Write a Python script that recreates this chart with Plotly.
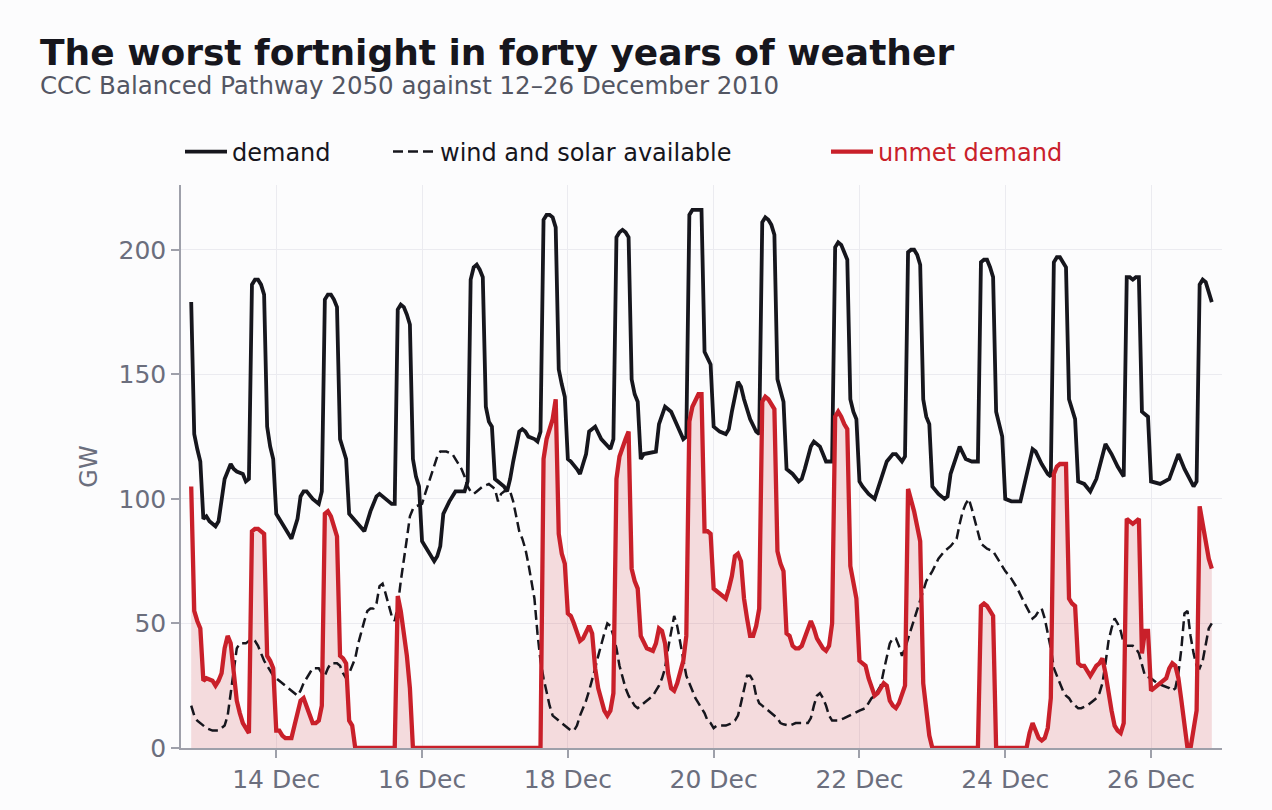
import pandas as pd
import plotly.graph_objects as go

START = pd.Timestamp("2010-12-12 00:00")

# hours after 12 Dec 00:00 and GW values
demand_hours = [20,21,22,23,24,25,26,28,29,30,31,32,33,34,35,37,38,39,40,41,42,43,44,45,46,47,48,50,52,53,54,55,56,57,58,60,62,63,64,65,66,67,68,69,70,71,72,74,76,77,79,80,81,82,84,86,87,88,89,90,91,92,93,94,95,96,97,99,100,101,102,103,104,105,107,110,111,112,113,114,115,116,117,118,119,120,121,123,124,125,126,127,128,129,130,131,133,134,135,136,137,138,139,140,141,142,143,144,145,147,148,149,150,151,153,155,157,158,159,160,161,162,163,164,165,166,167,168,169,173,174,176,178,180,182,183,184,185,186,187,188,189,190,191,192,194,196,197,198,200,201,202,204,206,207,208,209,210,211,212,213,214,215,216,218,220,221,222,224,225,227,228,229,231,232,233,234,235,236,237,238,239,240,241,243,245,247,248,249,251,252,254,255,256,257,258,259,260,261,262,263,264,266,268,269,270,272,273,275,277,279,280,281,282,283,284,285,286,287,288,290,293,295,297,298,300,302,303,304,305,306,307,308,309,310,311,312,314,316,318,321,323,325,327,328,329,330,331,332,333,334,335,336,339,342,345,347,350,351,352,353,354,355,356]
demand_gw = [179,126,120,115,92,93,91,89,91,101,108,111,114,112,111,110,107,108,186,188,188,186,182,129,121,116,94,90,86,84,88,92,101,103,103,100,98,103,180,182,182,180,177,124,120,116,94,91,88,87,95,98,101,102,100,98,98,176,178,177,174,170,116,109,105,83,81,77,75,77,81,94,97,99,103,103,107,188,193,194,192,189,137,131,129,108,107,105,103,108,115,122,127,128,127,125,124,123,127,212,214,214,213,209,152,146,141,116,115,112,110,114,118,127,129,124,121,120,124,205,207,208,207,205,148,142,139,116,118,119,130,137,135,129,124,125,214,216,216,216,216,159,156,154,129,127,126,128,135,147,145,140,132,127,126,211,213,212,210,206,148,143,139,112,110,107,108,112,121,123,121,118,115,115,201,203,202,199,196,140,135,132,107,105,102,100,107,111,115,118,118,115,117,199,200,200,198,194,140,133,130,105,102,100,101,110,118,121,116,115,115,195,196,196,193,189,135,130,125,100,99,99,110,120,119,114,110,109,195,197,197,195,193,140,136,132,107,106,103,108,122,118,113,109,189,189,188,189,189,135,134,133,107,106,108,118,112,105,107,186,188,187,183,179]

wind_solar_hours = [20,21,22,23,24,25,27,29,30,31,32,33,34,35,36,38,40,41,42,43,44,45,46,47,48,50,52,53,55,56,57,59,60,62,63,64,65,66,68,69,70,71,72,73,74,75,76,77,78,79,80,81,82,83,84,85,86,87,88,89,90,91,92,93,94,96,97,98,99,100,101,102,104,106,107,108,109,110,111,112,113,114,115,116,118,119,120,121,122,123,124,125,126,127,128,129,130,131,132,133,134,135,136,137,138,139,140,141,142,143,144,145,146,147,148,149,150,151,152,153,154,155,156,157,158,159,160,161,162,163,164,165,166,167,168,170,172,173,174,175,176,177,178,179,180,181,182,183,184,185,186,187,188,189,190,191,192,193,196,198,199,200,201,202,203,204,205,206,207,208,209,210,211,212,213,214,215,217,219,223,224,225,226,227,228,229,230,231,233,235,238,240,242,243,244,245,247,248,249,250,251,252,253,254,255,256,257,258,259,260,261,262,263,264,266,268,270,272,273,274,275,276,277,278,279,280,282,284,286,288,290,292,294,296,297,298,299,300,301,302,303,304,305,306,307,308,309,310,311,312,313,315,317,318,319,320,321,322,323,324,325,326,327,328,330,331,332,333,334,336,338,340,342,343,344,345,346,347,348,349,350,351,352,353,354,355,356]
wind_solar_gw = [17,13,11,10,9,8,7,7,8,9,13,22,32,40,42,42,44,43,41,38,35,33,31,29,28,26,24,23,21,23,26,30,32,32,30,29,32,34,34,33,30,28,30,33,36,42,47,51,55,56,56,58,65,66,62,57,53,51,57,67,75,84,93,96,97,98,102,106,110,114,117,119,119,118,116,114,112,109,105,103,102,103,104,105,106,105,104,99,102,103,104,103,99,93,87,84,80,74,67,60,46,35,28,22,17,13,12,11,10,9,8,7,7,9,13,16,19,23,27,32,37,42,46,50,49,45,40,33,28,24,21,19,17,16,17,19,21,23,25,28,32,40,47,53,49,42,35,29,26,23,20,18,16,14,11,10,8,9,9,10,11,13,18,24,29,29,27,21,18,17,16,15,14,13,12,10,9.5,9,10,10,12,17,21,22,20,17,13,11,11,12,14,15,16,18,20,21,25,31,37,42,44,44,41,37,40,44,48,52,56,60,64,67,69,71,76,79,81,84,90,95,98,100,96,91,86,82,80,79,75,71,68,64,59,54,52,53,55,56,52,46,40,32,29,26,23,21,20,18,17,16,16,17,19,20,22,26,34,43,48,52,50,47,42,41,41,40,38,33,29,28,26,25,24,23,24,30,40,54,55,45,38,33,32,35,42,48,50]

unmet_hours = [20,21,22,23,24,25,27,28,29,30,31,32,33,34,35,36,37,38,39,40,41,42,43,44,45,46,47,48,49,50,51,53,54,55,56,57,58,59,60,61,62,63,64,65,66,67,68,69,70,71,72,73,74,87,88,89,90,91,92,93,135,136,137,138,139,140,141,142,143,144,145,146,147,148,149,150,151,152,153,154,155,156,157,158,159,160,161,162,163,164,165,166,167,168,169,170,172,173,174,175,176,177,178,179,180,181,182,183,184,185,186,187,188,189,190,191,192,193,194,195,196,197,198,199,200,201,202,203,204,205,206,207,208,209,210,211,212,213,214,215,216,217,218,219,220,221,222,223,224,225,226,227,228,229,230,231,232,233,234,235,236,237,238,239,240,241,242,243,244,245,246,247,248,249,250,251,252,253,254,255,256,257,258,259,260,261,262,263,264,279,280,281,282,283,284,285,295,296,297,298,299,300,301,302,303,304,305,306,307,308,309,310,311,312,313,314,315,316,317,318,319,320,321,322,323,324,325,326,327,328,329,330,331,332,333,334,335,336,337,338,339,340,341,342,343,344,345,346,347,348,349,350,351,352,353,354,355,356]
unmet_gw = [105,55,51,48,27,28,27,25,27,30,40,45,42,30,19,14,10,8,6,87,88,88,87,86,37,35,32,7,7,5,4,4,9,15,19,20,17,13,10,10,11,17,94,95,93,89,85,37,36,34,11,9,0,0,61,55,47,37,24,0,0,116,124,128,132,140,86,78,74,54,53,50,46,43,44,47,49,46,32,24,19,15,13,15,22,108,117,121,124,127,72,67,64,45,42,40,39,42,48,47,42,30,24,23,26,30,35,45,131,137,140,142,142,87,87,86,64,63,62,61,60,64,69,77,78,75,60,52,45,45,49,56,139,141,140,138,136,79,74,71,46,45,41,40,40,41,44,48,51,48,44,42,40,39,41,50,133,135,133,130,128,73,66,60,35,34,33,28,24,21,22,24,26,25,19,17,16,18,21,25,104,100,95,89,83,26,15,5,0,0,57,58,57,55,53,0,0,6,10,7,4,3,4,8,20,110,113,114,114,114,60,58,57,34,33,33,31,29,31,33,34,36,30,22,15,9,7,6,10,92,91,90,91,92,38,47,47,23,24,25,26,27,28,32,34,33,28,19,10,0,0,7,15,97,90,84,76,72]

tick_dates = ["2010-12-14", "2010-12-16", "2010-12-18", "2010-12-20",
              "2010-12-22", "2010-12-24", "2010-12-26"]
tick_labels = ["14 Dec", "16 Dec", "18 Dec", "20 Dec", "22 Dec", "24 Dec", "26 Dec"]
y_ticks = [0, 50, 100, 150, 200]

INK = "#16161d"
RED = "#c9202a"
GREY = "#6b6e7d"
AXIS = "#9ea0aa"
GRID = "#ebebf0"
BG = "#fcfcfd"
FONT = "DejaVu Sans"


def to_time(hours):
    return [START + pd.Timedelta(hours=h) for h in hours]


fig = go.Figure()

fig.add_trace(go.Scatter(
    x=to_time(unmet_hours), y=unmet_gw, mode="lines",
    line=dict(width=0, color=RED), fill="tozeroy",
    fillcolor="rgba(201,32,42,0.15)", showlegend=False, hoverinfo="skip"))

fig.add_trace(go.Scatter(
    x=to_time(demand_hours), y=demand_gw, mode="lines", name="demand",
    line=dict(color=INK, width=3.8), legend="legend"))

fig.add_trace(go.Scatter(
    x=to_time(wind_solar_hours), y=wind_solar_gw, mode="lines",
    name="wind and solar available",
    line=dict(color=INK, width=2.5, dash="10px,5px"), legend="legend2"))

fig.add_trace(go.Scatter(
    x=to_time(unmet_hours), y=unmet_gw, mode="lines", name="unmet demand",
    line=dict(color=RED, width=4.3), legend="legend3"))

L, R, T, B = 181, 50, 185, 62
PW, PH = 1272 - L - R, 810 - T - B


def px_x(px):
    return (px - L) / PW


def px_y(py):
    return (810 - B - py) / PH


legend_common = dict(orientation="h", yanchor="middle", y=px_y(152),
                     xanchor="left", bgcolor="rgba(0,0,0,0)",
                     itemwidth=42, borderwidth=0)

fig.update_layout(
    width=1272, height=810,
    margin=dict(l=L, r=R, t=T, b=B),
    paper_bgcolor=BG, plot_bgcolor=BG,
    font=dict(family=FONT, color=INK),
    legend=dict(**legend_common, x=px_x(180), font=dict(size=24, color=INK, family=FONT)),
    legend2=dict(**legend_common, x=px_x(388), font=dict(size=24, color=INK, family=FONT)),
    legend3=dict(**legend_common, x=px_x(826), font=dict(size=24, color=RED, family=FONT)),
    xaxis=dict(
        type="date",
        range=[START + pd.Timedelta(hours=16.64), START + pd.Timedelta(hours=359.36)],
        tickvals=tick_dates, ticktext=tick_labels,
        showgrid=True, gridcolor=GRID, gridwidth=1,
        showline=True, linecolor=AXIS, linewidth=1.5,
        ticks="outside", ticklen=8, tickwidth=1.5, tickcolor=AXIS,
        tickfont=dict(size=25, color=GREY, family=FONT),
        zeroline=False,
    ),
    yaxis=dict(
        range=[0, 226], tickvals=y_ticks,
        showgrid=True, gridcolor=GRID, gridwidth=1,
        showline=True, linecolor=AXIS, linewidth=1.5,
        ticks="outside", ticklen=8, tickwidth=1.5, tickcolor=AXIS,
        tickfont=dict(size=25, color=GREY, family=FONT),
        zeroline=False,
        title=dict(text="GW", font=dict(size=24, color=GREY, family=FONT), standoff=14),
    ),
    annotations=[
        dict(text="<b>The worst fortnight in forty years of weather</b>",
             xref="paper", yref="paper", x=px_x(38), y=px_y(52),
             xanchor="left", yanchor="middle", showarrow=False,
             font=dict(size=36, color=INK, family=FONT)),
        dict(text="CCC Balanced Pathway 2050 against 12\u201326 December 2010",
             xref="paper", yref="paper", x=px_x(38), y=px_y(86),
             xanchor="left", yanchor="middle", showarrow=False,
             font=dict(size=24.5, color="#535663", family=FONT)),
    ],
    hovermode=False,
)

fig.write_html("out.html")
